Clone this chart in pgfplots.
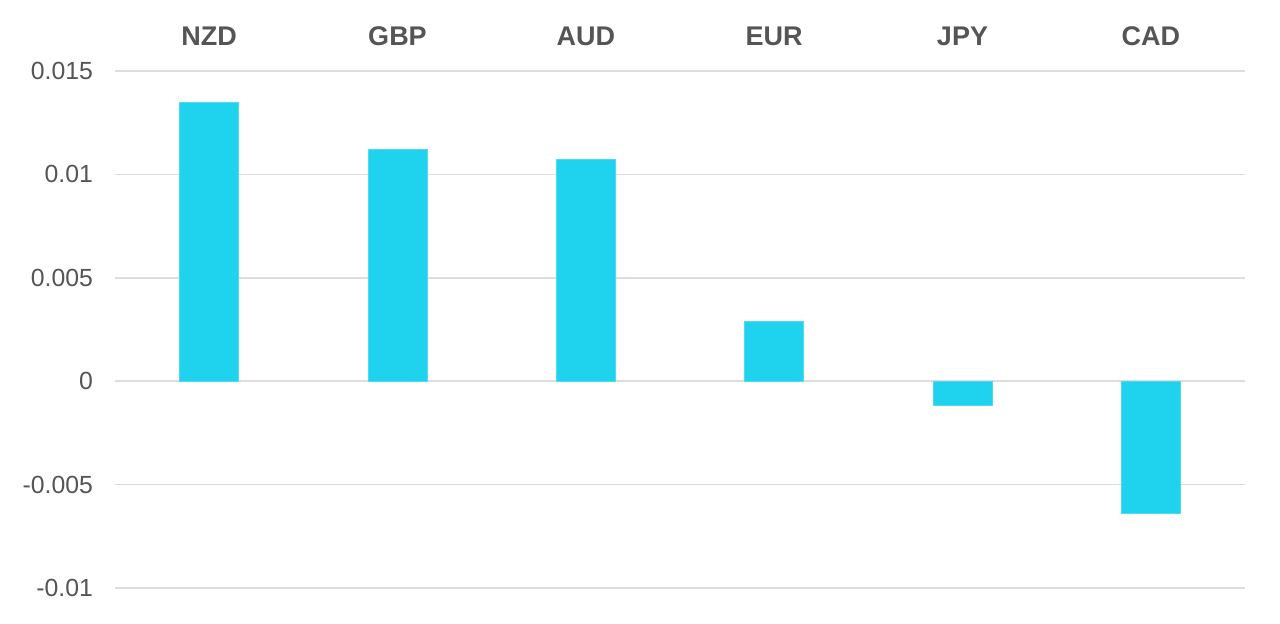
\documentclass[border=0pt]{standalone}
\usepackage{pgfplots}
\pgfplotsset{compat=1.18}
\usepackage{fontspec}
\setmainfont{Liberation Sans}
\definecolor{barc}{HTML}{1FD2EE}
\definecolor{gridc}{HTML}{DDDDDD}
\definecolor{txtc}{HTML}{555555}
\begin{document}
\begin{tikzpicture}
\begin{axis}[
  scale only axis,
  width=565pt, height=258.5pt,
  xmin=-0.5, xmax=5.5,
  ymin=-0.01, ymax=0.015,
  scaled y ticks=false,
  ytick={-0.01,-0.005,0,0.005,0.01,0.015},
  yticklabels={-0.01,-0.005,0,0.005,0.01,0.015},
  xtick={0,1,2,3,4,5},
  xticklabels={NZD,GBP,AUD,EUR,JPY,CAD},
  xticklabel pos=top,
  axis line style={draw=none},
  major tick length=0pt,
  ymajorgrids,
  grid style={gridc, line width=0.75pt},
  yticklabel style={font=\fontsize{12.4}{14}\selectfont, text=txtc, xshift=-7.5pt},
  xticklabel style={font=\fontsize{13.5}{15}\selectfont\bfseries, text=txtc, yshift=9pt},
  /pgf/number format/assume math mode=true,
  ybar, bar width=29.5pt,
  clip=false,
]
\addplot[fill=barc, draw=barc!80!white, line width=0.4pt] coordinates {
  (0,0.01350) (1,0.01122) (2,0.01073) (3,0.00290) (4,-0.00116) (5,-0.00638)
};
\end{axis}
\pgfresetboundingbox
\path ([shift={(-57.5pt,-17.5pt)}]current axis.south west) rectangle ([shift={(17.5pt,35.5pt)}]current axis.north east);
\end{tikzpicture}
\end{document}
